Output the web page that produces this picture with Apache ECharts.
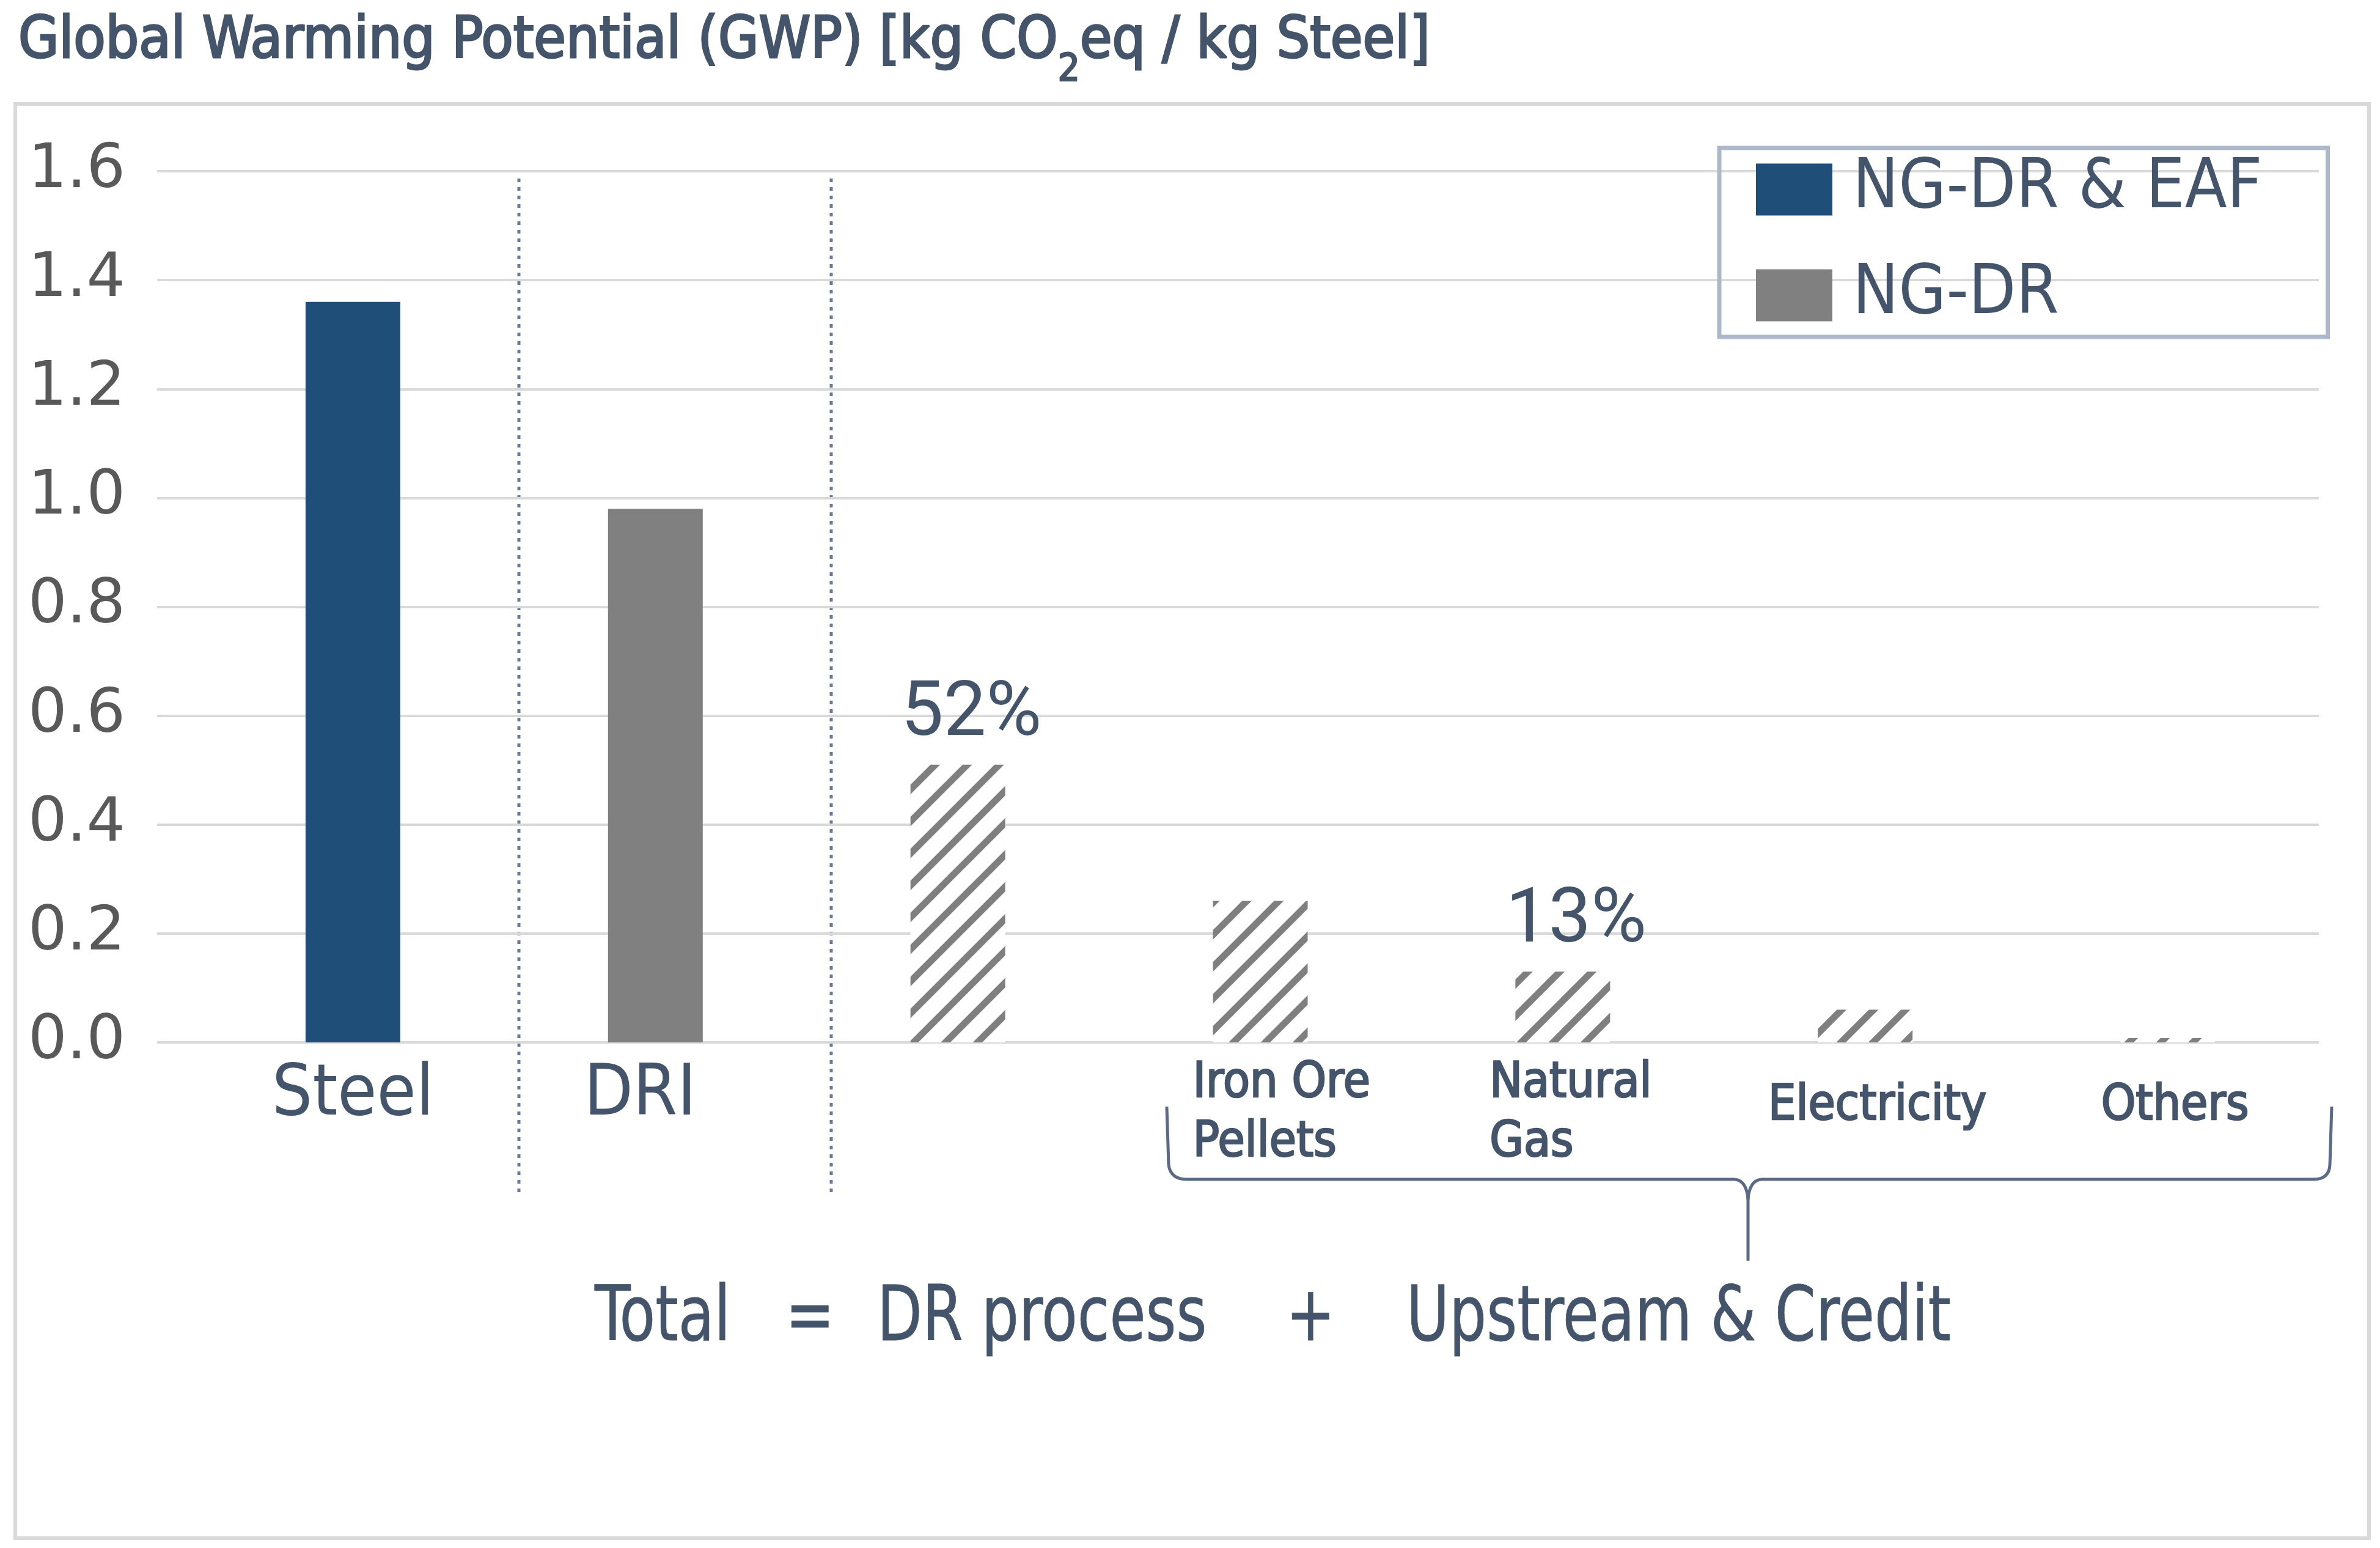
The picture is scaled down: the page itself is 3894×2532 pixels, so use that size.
<!DOCTYPE html>
<html>
<head>
<meta charset="utf-8">
<script src="https://cdn.jsdelivr.net/npm/echarts@6/dist/echarts.min.js"></script>
<style>
html,body{margin:0;padding:0;background:#fff;}
#c{width:3894px;height:2532px;}
</style>
</head>
<body>
<div id="c"></div>
<script>
// ---- data ----
const categories = ['Steel', 'DRI', 'DR process', 'Iron Ore\nPellets', 'Natural\nGas', 'Electricity', 'Others'];
const eafValues = [1.36, null, null, null, null, null, null];
const drValues = [null, 0.98, 0.51, 0.26, 0.13, 0.06, 0.008];
const hatched = [false, false, true, true, true, true, true];
const shareLabels = ['', '', '52%', '', '13%', '', ''];
const yTicks = { min: 0, max: 1.6, interval: 0.2 };
const seriesNames = ['NG-DR & EAF', 'NG-DR'];
const equationParts = ['Total', '=', 'DR process', '+', 'Upstream & Credit'];

// ---- styles ----
const CF = "'Liberation Sans Narrow', 'DejaVu Sans Condensed', 'Roboto Condensed', 'Noto Sans', sans-serif";
const TXT = '#44546a';
const BLUE = '#1f4e79';
const GRAY = '#808080';
const BR = { stroke: '#5b6b86', lineWidth: 5, fill: null };
const labelShift = [0, -25, 0, 35, 13, 20, 12];     // horizontal nudge of axis labels (px)
const labelDrop = [0, 0, 0, 58, 58, 34, 34];          // spacer height to push small labels down (px)
const eqX = [973, 1285, 1435, 2104, 2301];

const hatchStyle = {
  color: '#ffffff',
  decal: {
    symbol: 'rect', symbolSize: 1,
    dashArrayX: [1, 0], dashArrayY: [11, 26],
    rotation: -Math.PI / 4, color: '#7f7f7f'
  }
};

const drData = drValues.map((v, i) => {
  if (v == null) return '-';
  return hatched[i] ? { value: v, itemStyle: hatchStyle } : v;
});
const eafData = eafValues.map(v => v == null ? '-' : v);

// rich styles for the category labels
const rich = {};
categories.forEach((c, i) => {
  const s = labelShift[i];
  const pad = s >= 0 ? [0, 0, 0, 2 * s] : [0, -2 * s, 0, 0];
  if (i < 2) {
    rich['c' + i] = { fontFamily: CF, fontSize: 116, color: TXT, padding: pad };
  } else {
    rich['c' + i] = {
      fontFamily: CF, fontSize: 80, color: TXT, align: 'left', lineHeight: 97, padding: pad,
      textBorderColor: TXT, textBorderWidth: 2.5
    };
    rich['sp' + i] = { fontSize: 4, lineHeight: labelDrop[i], height: labelDrop[i] };
  }
});

const chart = echarts.init(document.getElementById('c'));
const gridTop = 280, gridBottom = 827, gridRight = 100;

const eqGraphics = equationParts.map((t, i) => ({
  type: 'text', x: eqX[i], y: 2160, scaleX: 0.86,
  style: { text: t, fontFamily: CF, fontSize: 124, fill: TXT, verticalAlign: 'middle', align: 'left', stroke: TXT, lineWidth: 0.8 }
}));

chart.setOption({
  animation: false,
  backgroundColor: '#ffffff',
  legend: {
    orient: 'vertical', left: 2813, top: 242,
    data: seriesNames,
    icon: 'rect', itemWidth: 125, itemHeight: 85, itemGap: 61,
    padding: [12, 107, 12, 60],
    borderColor: '#adb9ca', borderWidth: 7,
    textStyle: { fontFamily: CF, fontSize: 112, color: TXT, padding: [0, 0, 0, 28] }
  },
  grid: [
    { left: 257, right: gridRight, top: gridTop, bottom: gridBottom },
    { left: 330, right: gridRight, top: gridTop, bottom: gridBottom }
  ],
  xAxis: [
    { gridIndex: 0, type: 'value', min: 0, max: 1, show: false },
    {
      gridIndex: 1, type: 'category', data: categories,
      axisLine: { show: false }, axisTick: { show: false },
      axisLabel: {
        interval: 0, margin: 88, verticalAlign: 'middle',
        formatter: (v, i) => {
          if (i === 2) return '';
          if (i < 2) return '{c' + i + '|' + v + '}';
          return '{sp' + i + '| }\n' + v.split('\n').map(s => '{c' + i + '|' + s + '}').join('\n');
        },
        rich: rich
      }
    }
  ],
  yAxis: [
    {
      gridIndex: 0, type: 'value', min: yTicks.min, max: yTicks.max, interval: yTicks.interval,
      axisLine: { show: false }, axisTick: { show: false },
      splitLine: { lineStyle: { color: '#d9d9d9', width: 4 } },
      axisLabel: {
        margin: 52, fontFamily: "'DejaVu Sans', Verdana, sans-serif", fontSize: 100, color: '#595959',
        formatter: v => v.toFixed(1)
      }
    },
    { gridIndex: 1, type: 'value', min: yTicks.min, max: yTicks.max, interval: yTicks.interval, show: false }
  ],
  series: [
    {
      name: seriesNames[0], type: 'bar', xAxisIndex: 1, yAxisIndex: 1,
      data: eafData, barWidth: 155, barGap: '-100%',
      itemStyle: { color: BLUE }
    },
    {
      name: seriesNames[1], type: 'bar', xAxisIndex: 1, yAxisIndex: 1,
      data: drData, barWidth: 155, barGap: '-100%',
      itemStyle: { color: GRAY },
      label: {
        show: true, position: 'top', distance: 18, offset: [22, 0],
        fontFamily: "Roboto, 'Noto Sans', sans-serif", fontSize: 124, color: TXT,
        formatter: p => shareLabels[p.dataIndex]
      }
    }
  ],
  graphic: [
    {
      type: 'text', x: 30, y: 70, scaleX: 1.014,
      style: {
        text: 'Global Warming Potential (GWP) [kg CO{sub|2}eq / kg Steel]',
        fontFamily: CF, fontSize: 94, fill: TXT, verticalAlign: 'middle',
        stroke: TXT, lineWidth: 3,
        rich: {
          sub: { fontFamily: CF, fontSize: 62, fill: TXT, stroke: TXT, lineWidth: 2.5, verticalAlign: 'bottom', padding: [0, 0, -30, 0] }
        }
      }
    },
    { type: 'rect', shape: { x: 25, y: 170, width: 3851, height: 2346 }, style: { fill: null, stroke: '#d9d9d9', lineWidth: 6 }, z: -1 },
    { type: 'line', shape: { x1: 849, y1: 292, x2: 849, y2: 1954 }, style: { stroke: '#6b7a99', lineWidth: 5, lineDash: [6, 8] } },
    { type: 'line', shape: { x1: 1360, y1: 292, x2: 1360, y2: 1954 }, style: { stroke: '#6b7a99', lineWidth: 5, lineDash: [6, 8] } },
    // curly bracket
    { type: 'line', shape: { x1: 1909, y1: 1810, x2: 1912, y2: 1905 }, style: BR },
    { type: 'bezierCurve', shape: { x1: 1912, y1: 1905, cpx1: 1915, cpy1: 1929, x2: 1942, y2: 1929 }, style: BR },
    { type: 'line', shape: { x1: 1942, y1: 1929, x2: 2838, y2: 1929 }, style: BR },
    { type: 'bezierCurve', shape: { x1: 2838, y1: 1929, cpx1: 2858, cpy1: 1931, x2: 2860, y2: 1962 }, style: BR },
    { type: 'bezierCurve', shape: { x1: 2882, y1: 1929, cpx1: 2862, cpy1: 1931, x2: 2860, y2: 1962 }, style: BR },
    { type: 'line', shape: { x1: 2860, y1: 1962, x2: 2860, y2: 2062 }, style: BR },
    { type: 'line', shape: { x1: 2882, y1: 1929, x2: 3785, y2: 1929 }, style: BR },
    { type: 'bezierCurve', shape: { x1: 3785, y1: 1929, cpx1: 3811, cpy1: 1929, x2: 3812, y2: 1905 }, style: BR },
    { type: 'line', shape: { x1: 3812, y1: 1905, x2: 3815, y2: 1810 }, style: BR }
  ].concat(eqGraphics)
});
</script>
</body>
</html>
